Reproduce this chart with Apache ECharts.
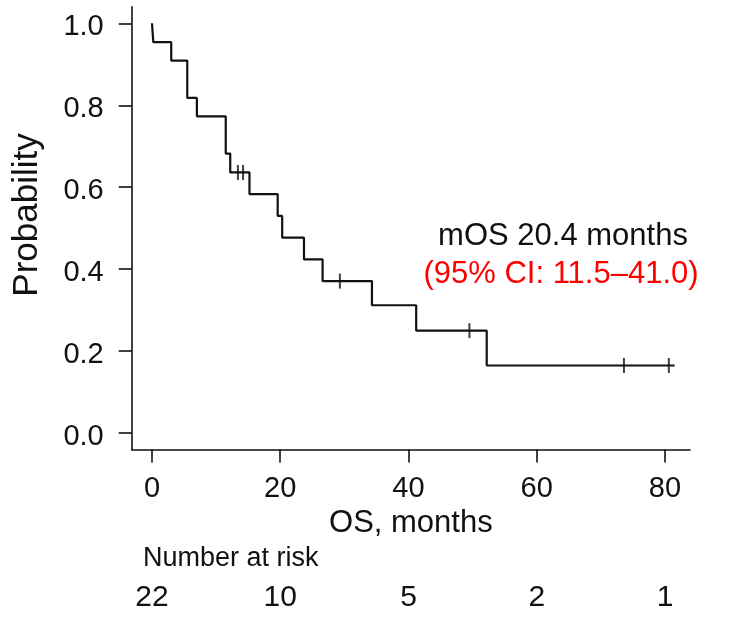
<!DOCTYPE html>
<html>
<head>
<meta charset="utf-8">
<script src="https://cdn.jsdelivr.net/npm/echarts@6/dist/echarts.min.js"></script>
<style>
html,body{margin:0;padding:0;background:#fff;}
#chart{width:733px;height:618px;}
</style>
</head>
<body>
<div id="chart"></div>
<script>
// Kaplan-Meier step points: time (months) and survival probability after each drop
const kmTimes = [0, 0.2, 3.0, 5.5, 7.0, 11.5, 12.2, 15.2, 19.6, 20.3, 23.7, 26.6, 34.3, 41.2, 52.2, 81.5];
const kmSurv  = [1.0, 0.954, 0.909, 0.818, 0.773, 0.682, 0.636, 0.583, 0.530, 0.477, 0.424, 0.371, 0.312, 0.250, 0.165, 0.165];
// censored observations
const censorTimes = [13.4, 14.2, 29.3, 49.5, 73.6, 80.6];
const censorSurv  = [0.636, 0.636, 0.371, 0.250, 0.165, 0.165];
// axis ticks
const xTicks = [0, 20, 40, 60, 80];
const yTicks = [0, 0.2, 0.4, 0.6, 0.8, 1.0];
// number at risk
const riskTimes = [0, 20, 40, 60, 80];
const riskCounts = [22, 10, 5, 2, 1];

const FONT = 'Liberation Sans, Arial, Helvetica, sans-serif';
const INK = '#111';

const chart = echarts.init(document.getElementById('chart'), null, {renderer: 'canvas'});

const xMin = -3.166, xMax = 83.9;

chart.setOption({
  animation: false,
  backgroundColor: '#fff',
  grid: [
    {left: 131.7, right: 43, top: 6.9, bottom: 168.5},
    {left: 131.7, right: 43, top: 582, height: 1}
  ],
  xAxis: [{
    type: 'value', gridIndex: 0, min: xMin, max: xMax,
    splitLine: {show: false},
    axisLine: {show: true, onZero: false, lineStyle: {color: INK, width: 1.6}},
    axisTick: {show: true, length: 13, inside: false, customValues: xTicks, lineStyle: {color: INK, width: 1.6}},
    axisLabel: {show: true, customValues: xTicks, margin: 25, fontSize: 29, fontFamily: FONT, color: INK},
    name: 'OS, months', nameLocation: 'middle', nameGap: 58,
    nameTextStyle: {fontSize: 31, fontFamily: FONT, color: INK}
  }, {
    type: 'value', gridIndex: 1, min: xMin, max: xMax,
    splitLine: {show: false},
    axisLine: {show: false, onZero: false}, axisTick: {show: false},
    axisLabel: {show: true, customValues: riskTimes, margin: 0, fontSize: 30, fontFamily: FONT, color: INK,
      formatter: function (v) { const i = riskTimes.indexOf(v); return i >= 0 ? String(riskCounts[i]) : ''; }}
  }],
  yAxis: [{
    type: 'value', gridIndex: 0, min: -0.04, max: 1.04,
    splitLine: {show: false},
    axisLine: {show: true, onZero: false, lineStyle: {color: INK, width: 1.6}},
    axisTick: {show: true, length: 13, customValues: yTicks, lineStyle: {color: INK, width: 1.6}},
    axisLabel: {show: true, customValues: yTicks, margin: 28, color: INK,
      formatter: function (v) { return '{v|' + v.toFixed(1) + '}'; },
      rich: {v: {fontSize: 29, fontFamily: FONT, color: INK, padding: [8, 0, 0, 0]}}}
  }, {
    type: 'value', gridIndex: 1, show: false, min: 0, max: 1
  }],
  series: [{
    type: 'line', xAxisIndex: 0, yAxisIndex: 0, step: 'end',
    data: kmTimes.map((t, i) => [t, kmSurv[i]]),
    symbol: 'none', lineStyle: {color: INK, width: 2.2}, silent: true
  }, {
    type: 'scatter', xAxisIndex: 0, yAxisIndex: 0,
    data: censorTimes.map((t, i) => [t, censorSurv[i]]),
    symbol: 'rect', symbolSize: [2, 15], itemStyle: {color: INK}, silent: true
  }],
  graphic: [
    {type: 'text', x: 27, y: 215, rotation: Math.PI / 2,
      style: {text: 'Probability', fontSize: 35, fontFamily: FONT, fill: INK, align: 'center', verticalAlign: 'middle'}},
    {type: 'text', left: 143, top: 545, style: {text: 'Number at risk', fontSize: 27, fontFamily: FONT, fill: INK}},
    {type: 'text', x: 563, y: 236, style: {text: 'mOS 20.4 months', fontSize: 31, fontFamily: FONT, fill: INK, align: 'center', verticalAlign: 'middle'}},
    {type: 'text', x: 561, y: 274, style: {text: '(95% CI: 11.5\u201341.0)', fontSize: 31, fontFamily: FONT, fill: '#ff0000', align: 'center', verticalAlign: 'middle'}}
  ]
});
</script>
</body>
</html>
